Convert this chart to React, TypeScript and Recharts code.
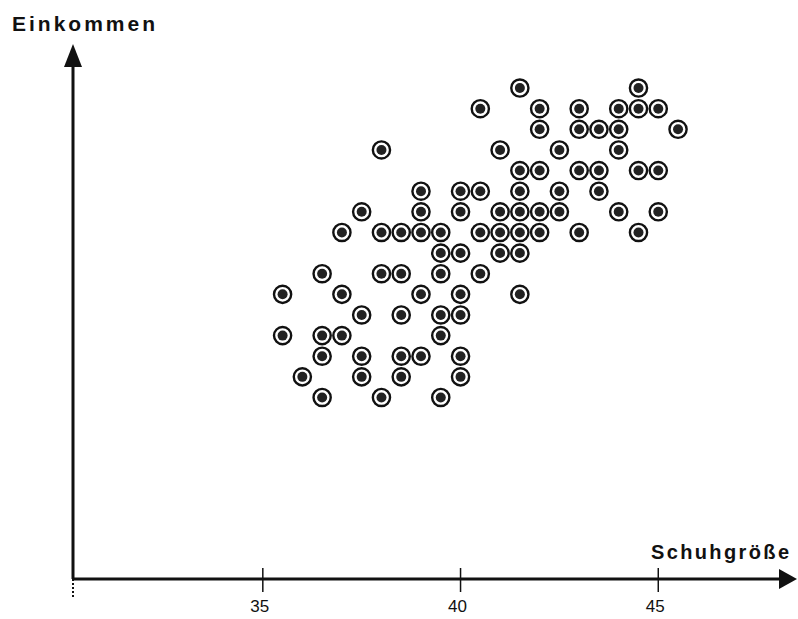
import { ScatterChart, Scatter, XAxis, YAxis } from 'recharts';

// ── Daten ─────────────────────────────────────────────────────
// Einkommensstufen von oben nach unten, dazu die Schuhgrößen auf jeder Stufe
const einkommenStufen = [25, 24, 23, 22, 21, 20, 19, 18, 17, 16, 15, 14, 13, 12, 11, 10];

const schuhgroessenJeStufe = [
    [41.5, 44.5],
    [40.5, 42, 43, 44, 44.5, 45],
    [42, 43, 43.5, 44, 45.5],
    [38, 41, 42.5, 44],
    [41.5, 42, 43, 43.5, 44.5, 45],
    [39, 40, 40.5, 41.5, 42.5, 43.5],
    [37.5, 39, 40, 41, 41.5, 42, 42.5, 44, 45],
    [37, 38, 38.5, 39, 39.5, 40.5, 41, 41.5, 42, 43, 44.5],
    [39.5, 40, 41, 41.5],
    [36.5, 38, 38.5, 39.5, 40.5],
    [35.5, 37, 39, 40, 41.5],
    [37.5, 38.5, 39.5, 40],
    [35.5, 36.5, 37, 39.5],
    [36.5, 37.5, 38.5, 39, 40],
    [36, 37.5, 38.5, 40],
    [36.5, 38, 39.5],
];

const xTicks = [35, 40, 45];

const punkte = einkommenStufen.flatMap((einkommen, i) =>
    schuhgroessenJeStufe[i].map(groesse => ({ x: groesse, y: einkommen })),
);

// ── Chart ─────────────────────────────────────────────────────

const W = 798;
const H = 619;
const INK = '#111';
const FONT = "'Liberation Sans', Arial, sans-serif";

const Punkt = ({ cx, cy }: any) => (
    <g>
        <circle cx={cx} cy={cy} r={8.6} fill="#fff" stroke={INK} strokeWidth={2.4} />
        <circle cx={cx} cy={cy} r={5} fill="#222" />
    </g>
);

const Tick = ({ x, payload }: any) => (
    <g>
        <line x1={x} x2={x} y1={579 - 11} y2={579 + 13} stroke={INK} strokeWidth={1.5} />
        <text x={x - 3} y={612} textAnchor="middle" fontSize={17} fill={INK} fontFamily={FONT}>
            {payload.value}
        </text>
    </g>
);

export default function App() {
    return (
        <div style={{ position: 'relative', width: W, height: H, background: '#fff' }}>
            <style>{`body{margin:0}`}</style>
            <ScatterChart width={W} height={H} margin={{ top: 60, right: 12, bottom: 39, left: 72 }}>
                <XAxis
                    type="number"
                    dataKey="x"
                    domain={[30.2, 48.23]}
                    ticks={xTicks}
                    allowDataOverflow
                    height={1}
                    tickSize={0}
                    tickMargin={0}
                    tickLine={false}
                    axisLine={{ stroke: INK, strokeWidth: 3 }}
                    tick={<Tick />}
                />
                <YAxis
                    type="number"
                    dataKey="y"
                    domain={[1.2, 26.36]}
                    allowDataOverflow
                    width={1}
                    tick={false}
                    tickLine={false}
                    axisLine={{ stroke: INK, strokeWidth: 3 }}
                />
                <Scatter data={punkte} shape={<Punkt />} isAnimationActive={false} />
            </ScatterChart>

            {/* Pfeilspitzen und Achsentitel */}
            <svg width={W} height={H} style={{ position: 'absolute', left: 0, top: 0, pointerEvents: 'none' }}>
                <polygon points="73,44 64,67 82,67" fill={INK} />
                <polygon points="779,569 797,579 779,589" fill={INK} />
                <line x1={73} x2={73} y1={579} y2={597} stroke={INK} strokeWidth={2} strokeDasharray="2 2" />
                <text x={12} y={31} fontSize={21} fontWeight="bold" fill={INK} textLength={143}
                    lengthAdjust="spacing" fontFamily={FONT}>
                    Einkommen
                </text>
                <text x={651} y={559} fontSize={20} fontWeight="bold" fill={INK} textLength={138}
                    lengthAdjust="spacing" fontFamily={FONT}>
                    Schuhgröße
                </text>
            </svg>
        </div>
    );
}
